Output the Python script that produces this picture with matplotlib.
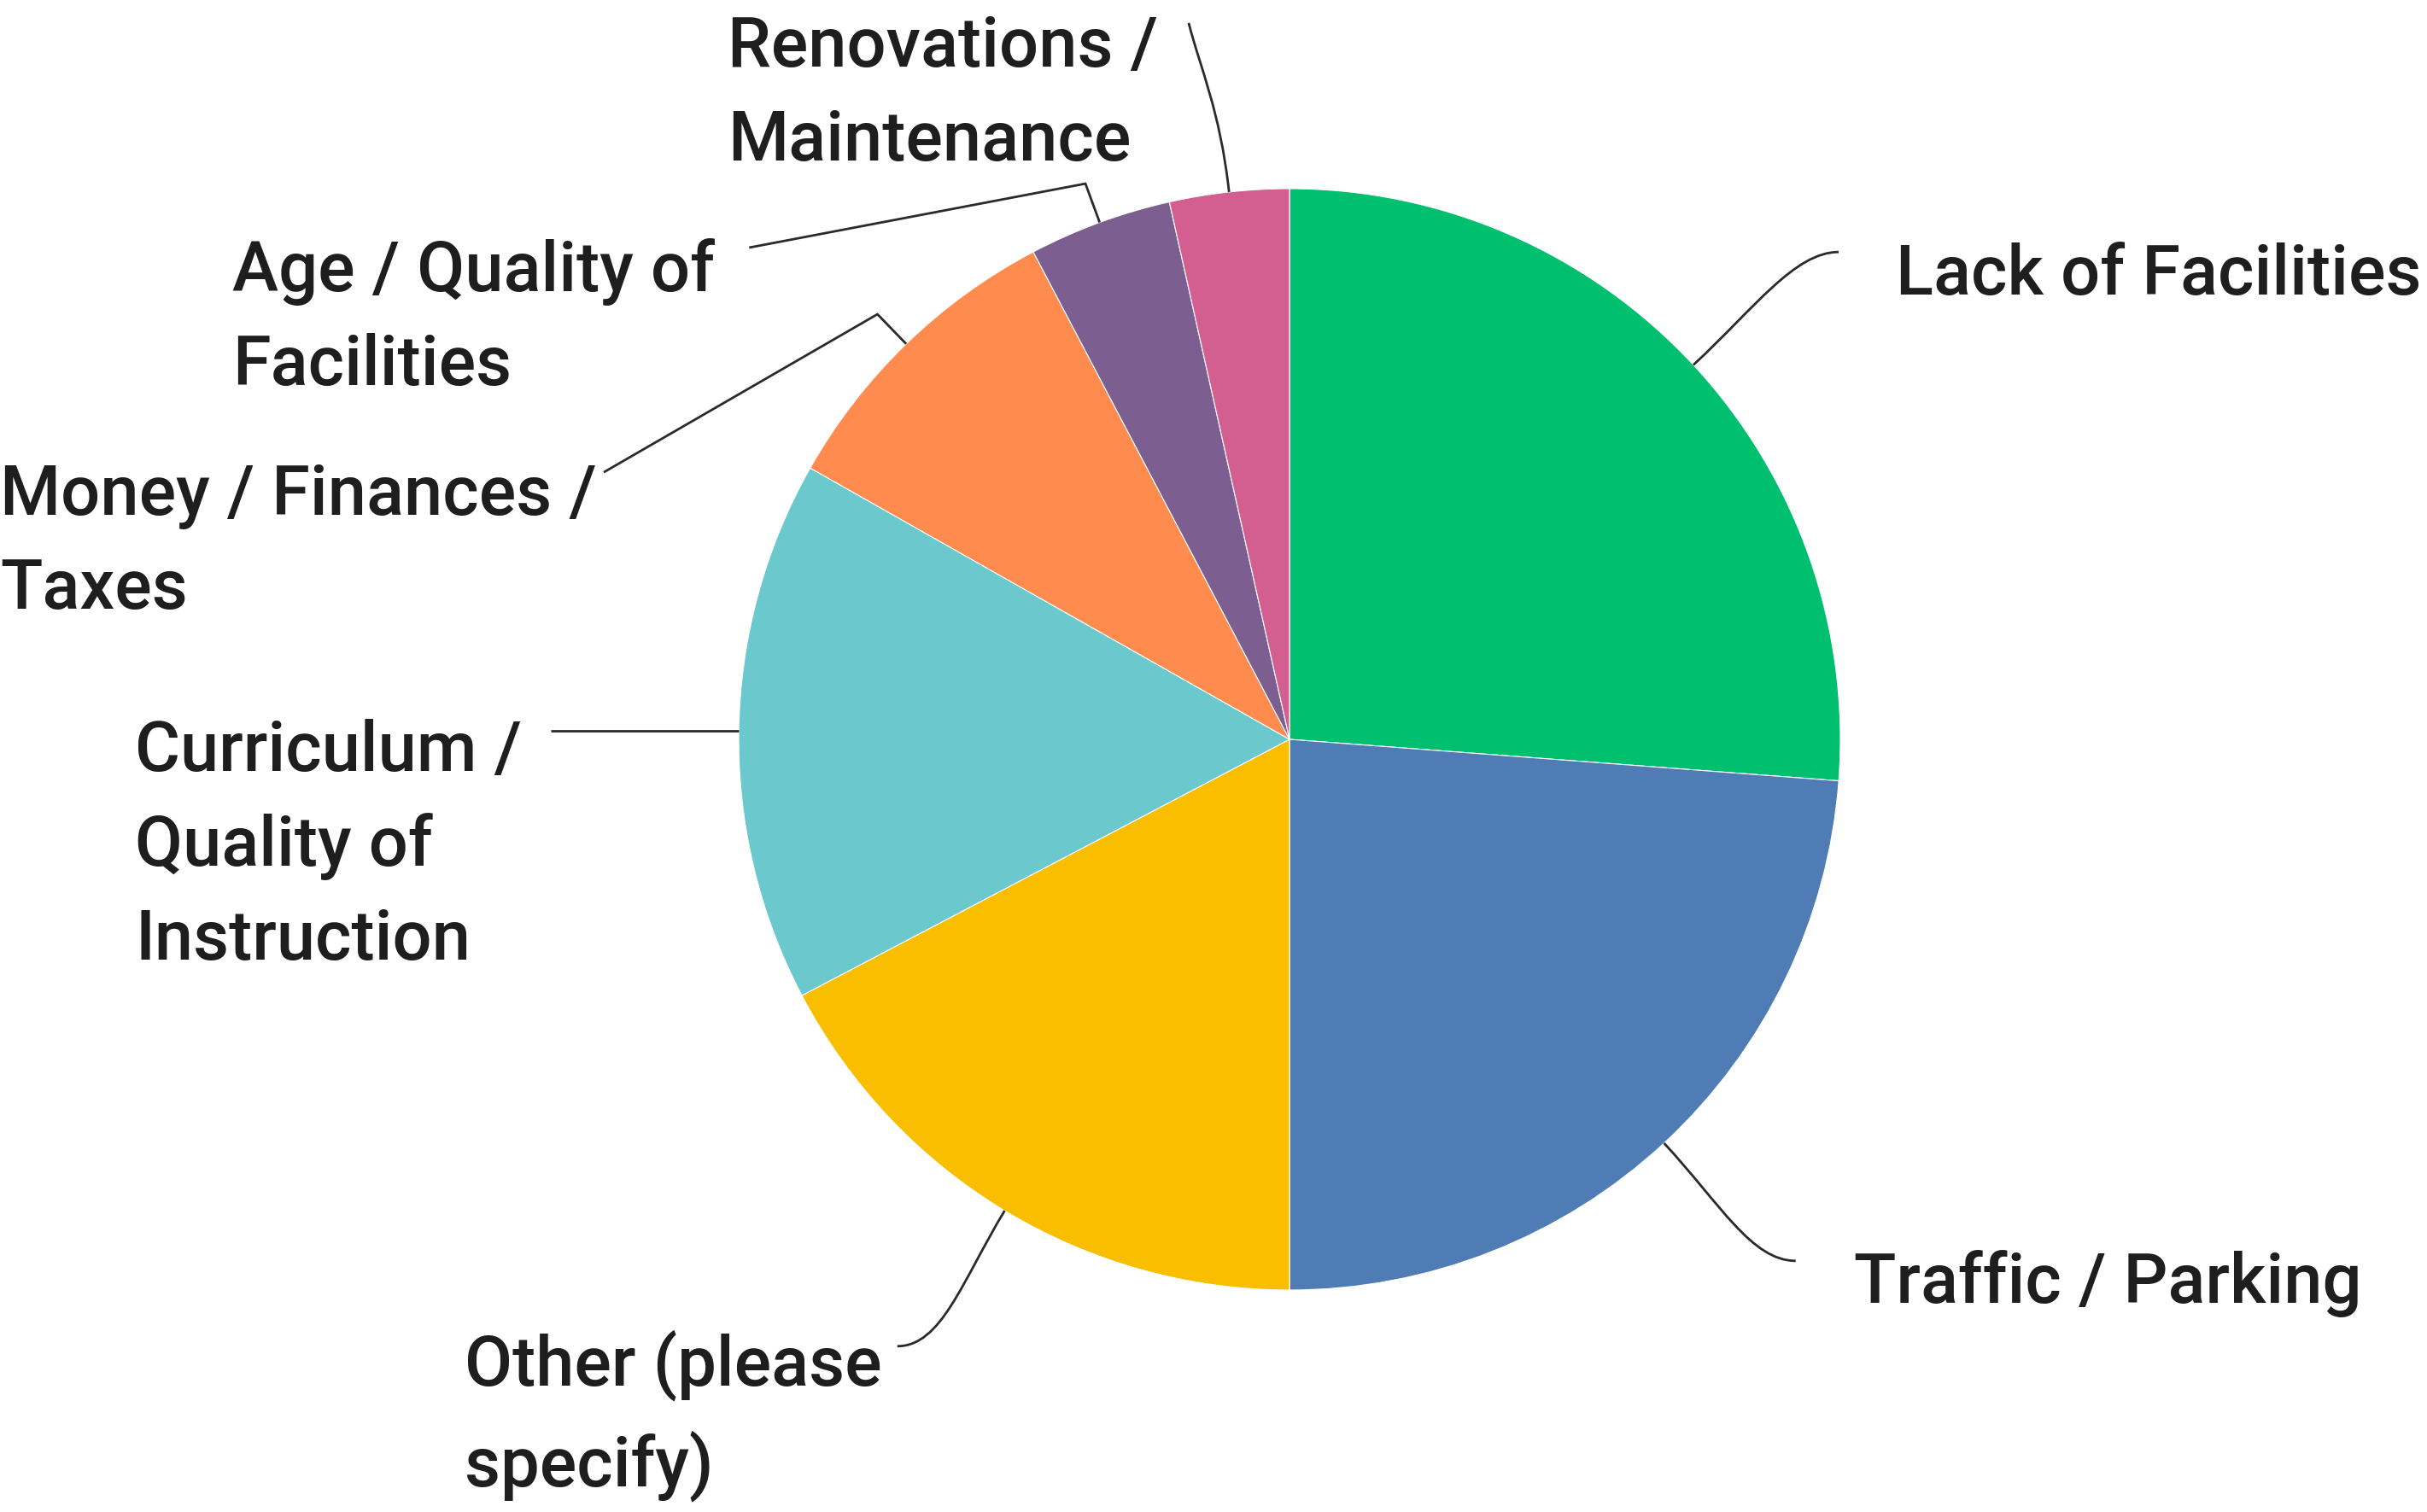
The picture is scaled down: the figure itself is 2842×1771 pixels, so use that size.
import numpy as np
import matplotlib
matplotlib.use('Agg')
import matplotlib.pyplot as plt
from matplotlib.path import Path
from matplotlib.patches import PathPatch

labels = ['Lack of Facilities', 'Traffic / Parking', 'Other (please\nspecify)',
          'Curriculum /\nQuality of\nInstruction', 'Money / Finances /\nTaxes',
          'Age / Quality of\nFacilities', 'Renovations /\nMaintenance']
shares = [26.2, 23.8, 17.3, 15.9, 9.1, 4.2, 3.5]
colors = ['#00BF6F', '#507CB6', '#F9BE00', '#6BC8CD', '#FF8B4F', '#7D5E90', '#D25F90']

# label placement (left edge x, block centre y) and leader end point, in pie-radius units
label_pos = [(1.101, 0.842), (1.025, -0.989), (-1.498, -1.228), (-2.096, -0.194),
             (-2.341, 0.357), (-1.919, 0.764), (-1.020, 1.171)]
leader_end = [(0.997, 0.885), (0.919, -0.947), (-0.712, -1.102), (-1.341, None),
              (-1.245, 0.485), (-0.981, 0.893), (-0.183, 1.301)]
leader_kind = ['curve', 'curve', 'curve', 'straight', 'elbow', 'elbow', 'curve']

W, H = 2842, 1771
cx, cy, R = 1510, 866, 645

fig = plt.figure(figsize=(W / 100, H / 100), dpi=100)
ax = fig.add_axes([0, 0, 1, 1])
wedges, _ = ax.pie(shares, colors=colors, startangle=90, counterclock=False,
                   radius=1, wedgeprops=dict(edgecolor='white', linewidth=0.8))
ax.set_xlim(-cx / R, (W - cx) / R)
ax.set_ylim((cy - H) / R, cy / R)
ax.set_aspect('auto')
ax.axis('off')

font = dict(family=['Roboto', 'DejaVu Sans'], weight='medium', fontsize=58.5, color='#1e1e1e')

for i, w in enumerate(wedges):
    mid = np.deg2rad((w.theta1 + w.theta2) / 2)
    d = np.array([np.cos(mid), np.sin(mid)])
    p0 = d * 1.0
    ex, ey = leader_end[i]
    if leader_kind[i] == 'straight':
        verts = [p0, (ex, p0[1])]
        codes = [Path.MOVETO, Path.LINETO]
    elif leader_kind[i] == 'elbow':
        p1 = d * 1.075
        verts = [p0, p1, (ex, ey)]
        codes = [Path.MOVETO, Path.LINETO, Path.LINETO]
    else:
        p1 = d * 1.15
        side = np.sign(ex - p0[0])
        p2 = (ex - side * 0.08, ey)
        if i == 6:
            p2 = (ex + 0.02, ey - 0.08)
        verts = [p0, p1, p2, (ex, ey)]
        codes = [Path.MOVETO, Path.CURVE4, Path.CURVE4, Path.CURVE4]
    ax.add_patch(PathPatch(Path(verts, codes), fill=False, edgecolor='#2a2a2a', lw=2))
    lx, ly = label_pos[i]
    ax.text(lx, ly, labels[i], ha='left', va='center', linespacing=1.52, **font)

fig.savefig('out.png', dpi=100, facecolor='white')
